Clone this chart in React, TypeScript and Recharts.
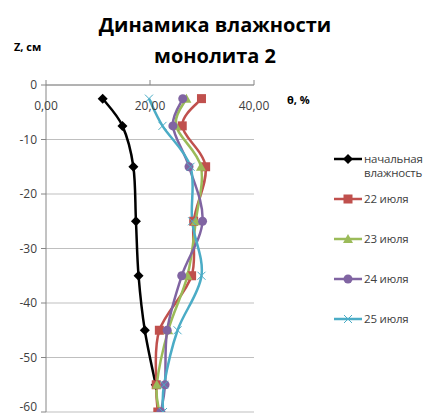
import { LineChart, Line, XAxis, YAxis, CartesianGrid, Legend } from "recharts";

const depths = [-2.5, -7.5, -15, -25, -35, -45, -55, -60];
const initial = [10.9, 14.7, 16.8, 17.3, 17.8, 19.0, 21.1];
const jul22 = [29.9, 26.2, 30.7, 28.4, 28.0, 21.8, 21.2, 21.5];
const jul23 = [27.0, 25.0, 29.8, 28.8, 27.2, 23.5, 21.3, 21.8];
const jul24 = [26.3, 24.4, 27.5, 30.1, 26.1, 23.3, 22.9, 22.1];
const jul25 = [19.8, 22.4, 27.8, 28.1, 29.9, 25.3, 22.7, 22.5];

const xTicks = [0, 20, 40];
const yTicks = [0, -10, -20, -30, -40, -50, -60];

const data = depths.map((z, i) => ({
  z,
  initial: initial[i],
  jul22: jul22[i],
  jul23: jul23[i],
  jul24: jul24[i],
  jul25: jul25[i],
}));

const series = [
  { key: "initial", name: "начальная влажность", color: "#000000", marker: "diamond" },
  { key: "jul22", name: "22 июля", color: "#C0504D", marker: "square" },
  { key: "jul23", name: "23 июля", color: "#9BBB59", marker: "triangle" },
  { key: "jul24", name: "24 июля", color: "#8064A2", marker: "circle" },
  { key: "jul25", name: "25 июля", color: "#4BACC6", marker: "cross" },
];

const FONT = "'Open Sans', 'DejaVu Sans', sans-serif";

// Excel-like smoothed line (Catmull-Rom through the points)
function smoothCurve(context: any) {
  let pts: number[][] = [];
  return {
    areaStart() {},
    areaEnd() {},
    lineStart() {
      pts = [];
    },
    lineEnd() {
      if (!pts.length) return;
      context.moveTo(pts[0][0], pts[0][1]);
      for (let i = 0; i < pts.length - 1; i++) {
        const p0 = pts[i - 1] || pts[i];
        const p1 = pts[i];
        const p2 = pts[i + 1];
        const p3 = pts[i + 2] || p2;
        context.bezierCurveTo(
          p1[0] + (p2[0] - p0[0]) / 6,
          p1[1] + (p2[1] - p0[1]) / 6,
          p2[0] - (p3[0] - p1[0]) / 6,
          p2[1] - (p3[1] - p1[1]) / 6,
          p2[0],
          p2[1]
        );
      }
    },
    point(x: number, y: number) {
      pts.push([+x, +y]);
    },
  };
}

function Marker({ type, cx, cy, color }: { type: string; cx: number; cy: number; color: string }) {
  if (type === "diamond") {
    return <path d={`M${cx},${cy - 5}L${cx + 5},${cy}L${cx},${cy + 5}L${cx - 5},${cy}Z`} fill={color} />;
  }
  if (type === "square") {
    return <rect x={cx - 4.5} y={cy - 4.5} width={9} height={9} fill={color} />;
  }
  if (type === "triangle") {
    return <path d={`M${cx},${cy - 5}L${cx + 5},${cy + 4}L${cx - 5},${cy + 4}Z`} fill={color} />;
  }
  if (type === "circle") {
    return <circle cx={cx} cy={cy} r={4.5} fill={color} />;
  }
  return (
    <path
      d={`M${cx - 4},${cy - 4}L${cx + 4},${cy + 4}M${cx + 4},${cy - 4}L${cx - 4},${cy + 4}`}
      stroke={color}
      strokeWidth={1}
      fill="none"
    />
  );
}

function makeDot(type: string, color: string) {
  return (props: any) => {
    const { cx, cy, index, value } = props;
    if (cx == null || cy == null || value == null) return <g key={`d-${index}`} />;
    return (
      <g key={`d-${index}`}>
        <Marker type={type} cx={cx} cy={cy} color={color} />
      </g>
    );
  };
}

function XTick(props: any) {
  const { x, payload } = props;
  return (
    <text x={x} y={110} textAnchor="middle" fontSize={12} fill="#404040" fontFamily={FONT}>
      {payload.value.toFixed(2).replace(".", ",")}
    </text>
  );
}

function LegendBox() {
  return (
    <div style={{ fontFamily: FONT, fontSize: 11.5, color: "#404040" }}>
      {series.map((s, i) => (
        <div
          key={s.key}
          style={{ position: "absolute", left: 0, top: i * 40, display: "flex", alignItems: "flex-start" }}
        >
          <svg width={30} height={16} style={{ flex: "none" }}>
            <line x1={1} y1={8} x2={29} y2={8} stroke={s.color} strokeWidth={2.5} />
            <Marker type={s.marker} cx={15} cy={8} color={s.color} />
          </svg>
          <div style={{ width: 60, lineHeight: "14px", marginTop: 1, marginLeft: 1, letterSpacing: -0.2 }}>{s.name}</div>
        </div>
      ))}
    </div>
  );
}

export default function App() {
  return (
    <div style={{ position: "absolute", left: 0, top: 0, width: 425, height: 414, overflow: "hidden", background: "#fff" }}>
      <div
        style={{
          position: "absolute",
          left: 70,
          top: 9,
          width: 290,
          textAlign: "center",
          fontFamily: FONT,
          fontWeight: 700,
          fontSize: 20,
          lineHeight: "31px",
          color: "#000",
        }}
      >
        Динамика влажности
        <br />
        монолита 2
      </div>
      <div style={{ position: "absolute", left: 14, top: 39, fontFamily: FONT, fontWeight: 700, fontSize: 11 }}>Z, см</div>
      <div style={{ position: "absolute", left: 287, top: 92, fontFamily: FONT, fontWeight: 700, fontSize: 11 }}>θ, %</div>
      <LineChart
        width={425}
        height={414}
        data={data}
        layout="vertical"
        margin={{ top: 65, right: 171, bottom: 2, left: 0 }}
      >
        <CartesianGrid vertical={false} stroke="#BFBFBF" />
        <XAxis
          type="number"
          orientation="top"
          domain={[0, 40]}
          ticks={xTicks}
          height={20}
          tickSize={5}
          tick={<XTick />}
          axisLine={{ stroke: "#868686" }}
          tickLine={{ stroke: "#868686" }}
          allowDataOverflow
        />
        <YAxis
          type="number"
          dataKey="z"
          domain={[-60, 0]}
          ticks={yTicks}
          reversed
          width={46}
          tickSize={5}
          tickMargin={4}
          tick={{ fontSize: 12, fill: "#404040", fontFamily: FONT }}
          axisLine={{ stroke: "#868686" }}
          tickLine={{ stroke: "#868686" }}
          allowDataOverflow
        />
        <Legend
          layout="vertical"
          align="center"
          verticalAlign="middle"
          wrapperStyle={{ left: 333, top: 151, width: 92, height: 190 }}
          content={() => <LegendBox />}
        />
        {series.map((s) => (
          <Line
            key={s.key}
            dataKey={s.key}
            name={s.name}
            type={smoothCurve as any}
            stroke={s.color}
            strokeWidth={2.5}
            dot={makeDot(s.marker, s.color)}
            activeDot={false}
            isAnimationActive={false}
          />
        ))}
      </LineChart>
    </div>
  );
}
